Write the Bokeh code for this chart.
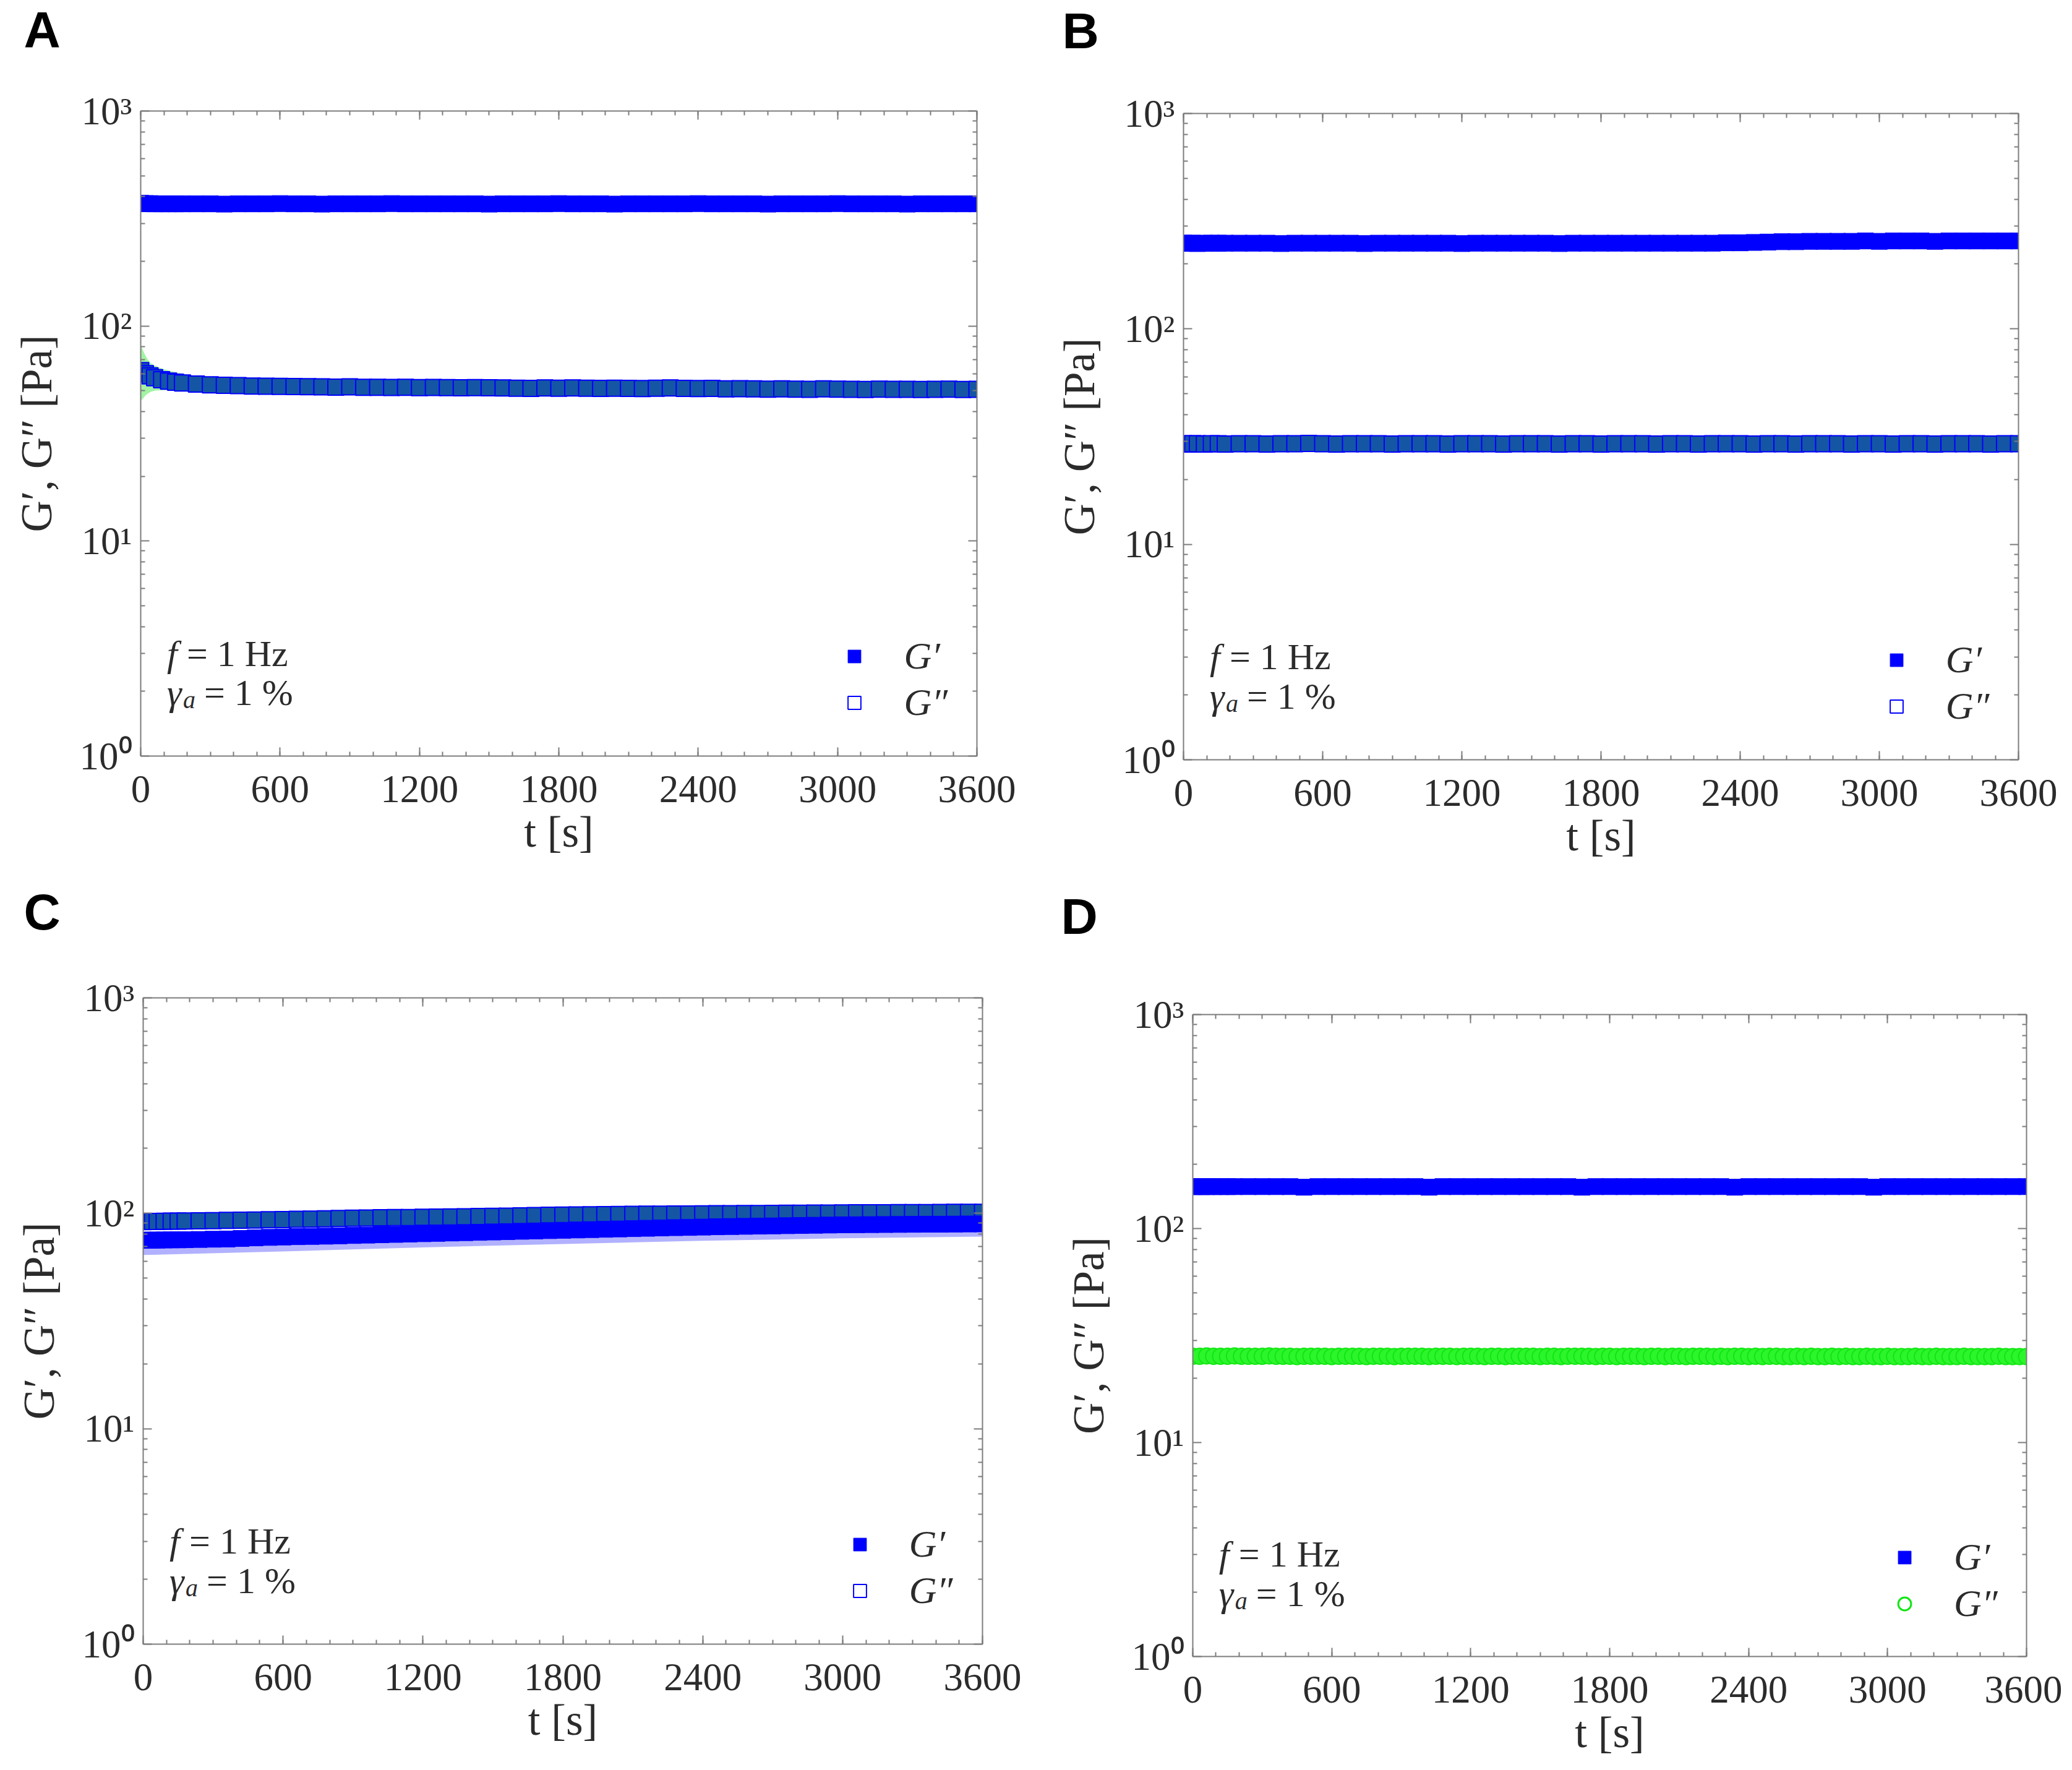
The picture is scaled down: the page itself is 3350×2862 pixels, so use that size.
import numpy as np
from bokeh.plotting import figure
from bokeh.layouts import column, row
from bokeh.models import (FixedTicker, LinearAxis, LogAxis, Label, Range1d,
                          Legend, LegendItem, Title)
from bokeh.embed import file_html
from bokeh.resources import INLINE

# sampling times [s]
t_s = [0, 20, 40, 60, 90, 120, 150, 180] + list(range(240, 3601, 60))
t_dense = list(range(0, 3601, 30))

# ---- panel A ----
a_g1 = [372, 371, 371, 370, 370, 370, 370, 370,
        370, 370, 369, 370, 370, 370, 371, 370, 370, 369, 370, 370, 370, 370, 371, 370, 370, 370, 370,
        370, 370, 369, 370, 370, 370, 370, 371, 370, 370, 370, 369, 370, 370, 370, 370, 370, 371, 370,
        370, 370, 370, 369, 370, 370, 370, 370, 371, 370, 370, 370, 370, 369, 370, 370, 370, 370, 370]
a_g2 = [62.0, 60.0, 58.6, 57.5, 56.3, 55.4, 54.8, 54.3,
        53.7, 53.3, 53.0, 52.8, 52.6, 52.5, 52.4, 52.3, 52.2, 52.1, 52.0, 52.1, 51.9, 51.9, 51.8, 51.9, 51.7, 51.8, 51.7,
        51.6, 51.7, 51.6, 51.5, 51.4, 51.3, 51.5, 51.4, 51.5, 51.4, 51.3, 51.4, 51.3, 51.2, 51.4, 51.5, 51.3, 51.2, 51.3,
        51.0, 51.1, 51.0, 50.9, 51.0, 50.9, 50.8, 51.0, 50.9, 50.8, 50.7, 50.9, 50.8, 50.8, 50.7, 50.8, 50.9, 50.7, 50.8]
a_band_t = [0, 10, 20, 30, 45, 60, 90, 120, 180, 240, 300, 420, 600, 900]
a_g2_hi = [82, 77, 73, 70, 67, 65.5, 63.5, 62, 60, 58.5, 57.5, 56.5, 55.5, 54.5]
a_g2_lo = [45, 46, 47.5, 48.5, 49.5, 50, 50.3, 50.3, 50, 49.8, 49.6, 49.3, 49, 48.8]

# ---- panel B ----
b_g1 = [250, 250, 250, 249, 250, 250, 250, 250,
        250, 250, 250, 249, 250, 250, 250, 250, 250, 249, 250, 250, 250, 250, 250, 250, 249, 250, 250,
        250, 250, 250, 250, 249, 250, 250, 250, 250, 250, 250, 250, 250, 250, 250, 250, 251, 251, 252,
        253, 254, 254, 255, 255, 255, 255, 256, 255, 256, 256, 256, 255, 256, 256, 256, 256, 256, 256]
b_g2 = [29.3, 29.2, 29.3, 29.3, 29.2, 29.3, 29.3, 29.2,
        29.3, 29.3, 29.2, 29.3, 29.3, 29.4, 29.3, 29.2, 29.3, 29.3, 29.3, 29.2, 29.3, 29.3, 29.3, 29.2, 29.3, 29.3, 29.3,
        29.2, 29.3, 29.3, 29.3, 29.2, 29.3, 29.3, 29.2, 29.3, 29.3, 29.3, 29.2, 29.3, 29.3, 29.2, 29.3, 29.3, 29.3, 29.2,
        29.3, 29.3, 29.2, 29.3, 29.3, 29.3, 29.2, 29.3, 29.3, 29.2, 29.3, 29.3, 29.2, 29.3, 29.3, 29.3, 29.2, 29.3, 29.3]

# ---- panel C ----
c_g1 = [75.0, 75.0, 75.1, 75.1, 75.2, 75.3, 75.3, 75.4,
        75.6, 75.8, 76.0, 76.4, 76.9, 77.3, 77.6, 77.9, 78.1, 78.3, 78.6, 78.9, 79.2, 79.5, 79.8, 80.1, 80.4, 80.7, 81.0,
        81.3, 81.6, 81.9, 82.2, 82.5, 82.8, 83.1, 83.4, 83.7, 84.0, 84.3, 84.6, 84.9, 85.2, 85.5, 85.8, 86.0, 86.3, 86.6,
        86.8, 87.0, 87.2, 87.4, 87.6, 87.8, 88.0, 88.2, 88.4, 88.5, 88.6, 88.7, 88.8, 88.9, 89.0, 89.0, 89.1, 89.2, 89.3]
c_g2 = [91.5, 91.6, 91.6, 91.7, 91.8, 91.9, 92.0, 92.1,
        92.3, 92.5, 92.7, 92.9, 93.1, 93.3, 93.5, 93.8, 94.0, 94.3, 94.6, 94.9, 95.1, 95.3, 95.5, 95.6, 95.8, 96.0, 96.2,
        96.4, 96.6, 96.8, 97.0, 97.3, 97.6, 97.9, 98.1, 98.3, 98.4, 98.6, 98.8, 98.9, 99.0, 99.1, 99.2, 99.3, 99.4, 99.5,
        99.6, 99.7, 99.8, 99.9, 100.0, 100.1, 100.2, 100.3, 100.4, 100.5, 100.6, 100.6, 100.7, 100.8, 100.8, 100.9, 101.0, 101.0, 101.1]
c_band_t = [0, 600, 1200, 1800, 2400, 3000, 3600]
c_g1_lo = [64, 66.5, 69.5, 72, 74.5, 76.5, 78]
c_g1_hi = [76, 79, 82, 85, 87, 89, 90]
c_g2_lo = [90, 92, 94, 96, 97, 99, 100]
c_g2_hi = [99.5, 101.5, 104.5, 106.5, 108.5, 109.5, 110.5]

# ---- panel D ----
d_g1 = [157, 157, 157, 157, 157, 157, 157, 157,
        157, 157, 157, 157, 156, 157, 157, 157, 157, 157, 157, 157, 157, 156, 157, 157, 157, 157, 157,
        157, 157, 157, 157, 157, 156, 157, 157, 157, 157, 157, 157, 157, 157, 157, 157, 156, 157, 157,
        157, 157, 157, 157, 157, 157, 157, 156, 157, 157, 157, 157, 157, 157, 157, 157, 157, 157, 157]
# G'' of panel D is sampled every 30 s (t_dense)
d_g2 = [25.3, 25.3, 25.4, 25.3, 25.3, 25.3, 25.4, 25.3, 25.3, 25.3, 25.3, 25.4, 25.3, 25.3, 25.3,
        25.2, 25.3, 25.3, 25.3, 25.3, 25.2, 25.3, 25.3, 25.3, 25.3, 25.2, 25.3, 25.3, 25.3, 25.2,
        25.3, 25.3, 25.3, 25.3, 25.2, 25.3, 25.3, 25.3, 25.2, 25.3, 25.3, 25.3, 25.2, 25.3, 25.3,
        25.2, 25.3, 25.3, 25.3, 25.3, 25.2, 25.3, 25.3, 25.2, 25.3, 25.3, 25.3, 25.3, 25.2, 25.3,
        25.3, 25.2, 25.3, 25.3, 25.3, 25.2, 25.3, 25.3, 25.2, 25.3, 25.3, 25.2, 25.3, 25.3, 25.3,
        25.2, 25.3, 25.2, 25.3, 25.3, 25.2, 25.3, 25.2, 25.3, 25.3, 25.2, 25.2, 25.3, 25.2, 25.3,
        25.2, 25.2, 25.3, 25.2, 25.3, 25.2, 25.2, 25.3, 25.2, 25.2, 25.3, 25.2, 25.2, 25.2, 25.3,
        25.2, 25.2, 25.3, 25.2, 25.2, 25.2, 25.3, 25.2, 25.2, 25.2, 25.2, 25.3, 25.2, 25.2, 25.2,
        25.2]

x_ticks = [0, 600, 1200, 1800, 2400, 3000, 3600]
y_ticks = [1, 10, 100, 1000]
y_tick_labels = {1: "10⁰", 10: "10¹", 100: "10²", 1000: "10³"}

SERIF = "Liberation Serif"
GREY = "#7d7d7d"
TXT = "#2b2b2b"
BLUE = "#0000ff"
G2_FILL = "#1456a3"
W, H = 1667, 1423
NAN = float("nan")


def style_axis(ax, show_labels):
    ax.axis_line_color = GREY
    ax.axis_line_width = 2
    ax.major_tick_line_color = GREY
    ax.minor_tick_line_color = GREY
    ax.major_tick_line_width = 2
    ax.minor_tick_line_width = 2
    ax.major_tick_in = 14
    ax.major_tick_out = 0
    ax.minor_tick_in = 7
    ax.minor_tick_out = 0
    if show_labels:
        ax.major_label_text_font = SERIF
        ax.major_label_text_font_size = "63px"
        ax.major_label_text_color = TXT
        ax.axis_label_text_font = SERIF
        ax.axis_label_text_font_size = "71px"
        ax.axis_label_text_font_style = "normal"
        ax.axis_label_text_color = TXT
    else:
        ax.major_label_text_font_size = "10px"
        ax.major_label_text_color = None


def panel(letter, borders, letter_pos, g1, g2, g2_t=t_s, g2_marker="square",
          g2_fill=G2_FILL, g2_line=BLUE, bands=()):
    left, right, top, bottom = borders
    fw, fh = W - left - right, H - top - bottom
    p = figure(width=W, height=H, x_range=Range1d(0, 3600), y_range=Range1d(1, 1000),
               y_axis_type="log", output_backend="svg", toolbar_location=None,
               min_border_left=left, min_border_right=right,
               min_border_top=top, min_border_bottom=bottom)
    p.outline_line_color = None
    p.grid.visible = False
    p.background_fill_color = "white"
    p.border_fill_color = "white"

    # panel letter as the plot title; an empty second line lifts it to the top corner
    off, stand, lh = letter_pos
    p.title = Title(text=letter + "\n\u00a0", align="left", offset=off, standoff=stand,
                    text_font="Liberation Sans", text_font_style="bold",
                    text_font_size="82px", text_line_height=lh, text_color="black")

    xt = dict(ticks=x_ticks, minor_ticks=list(range(0, 3601, 100)))
    yt = dict(ticks=y_ticks, minor_ticks=[m * d for d in (1, 10, 100) for m in range(2, 10)])
    p.xaxis.ticker = FixedTicker(**xt)
    p.yaxis.ticker = FixedTicker(**yt)
    p.yaxis.major_label_overrides = y_tick_labels
    p.xaxis.axis_label = "t [s]"
    p.yaxis.axis_label = "G′, G″ [Pa]"
    style_axis(p.xaxis[0], True)
    style_axis(p.yaxis[0], True)
    p.xaxis.major_label_standoff = 32
    p.xaxis.axis_label_standoff = 6
    p.yaxis.major_label_standoff = 14
    p.yaxis.axis_label_standoff = 28
    top_ax = LinearAxis(ticker=FixedTicker(**xt))
    right_ax = LogAxis(ticker=FixedTicker(**yt))
    style_axis(top_ax, False)
    style_axis(right_ax, False)
    p.add_layout(top_ax, "above")
    p.add_layout(right_ax, "right")

    for bt, lo, hi, col in bands:
        p.varea(x=bt, y1=lo, y2=hi, fill_color=col, fill_alpha=0.9)

    p.scatter(g2_t, g2, marker=g2_marker, size=26, fill_color=g2_fill,
              line_color=g2_line, line_width=2)
    p.scatter(t_s, g1, marker="square", size=26, fill_color=BLUE, line_color=BLUE)

    # legend proxies: one point that is never on screen, open marker for G''
    lg1 = p.scatter([NAN], [NAN], marker="square", fill_color=BLUE, line_color=BLUE)
    lg2 = p.scatter([NAN], [NAN], marker=g2_marker, fill_color="white", line_color=g2_line,
                    line_width=3 if g2_marker == "circle" else 2)
    leg = Legend(items=[LegendItem(label="G′", renderers=[lg1]),
                        LegendItem(label="G″", renderers=[lg2])],
                 location=(float(3074 / 3600 * fw - 26), float(np.log10(1.67) / 3 * fh - 28)),
                 glyph_width=52, glyph_height=72, label_height=72, spacing=3,
                 padding=0, margin=0, label_standoff=54,
                 label_text_font=SERIF, label_text_font_style="italic",
                 label_text_font_size="62px", label_text_color=TXT,
                 border_line_color=None, background_fill_alpha=0)
    p.add_layout(leg)

    ann = dict(text_font=SERIF, text_font_size="60px", text_color=TXT,
               text_baseline="middle", text_align="left")
    x0, y_f, y_g = 113, 3.0, 1.97
    y_sub = 10 ** (np.log10(y_g) - 12 / fh * 3)
    p.add_layout(Label(x=x0, y=y_f, text="f", text_font_style="italic", **ann))
    p.add_layout(Label(x=x0, y=y_f, x_offset=32, text="= 1 Hz", **ann))
    p.add_layout(Label(x=x0, y=y_g, text="γ", text_font_style="italic", **ann))
    p.add_layout(Label(x=x0, y=y_sub, x_offset=26, text="a", text_font=SERIF,
                       text_font_style="italic", text_font_size="40px", text_color=TXT,
                       text_baseline="middle", text_align="left"))
    p.add_layout(Label(x=x0, y=y_g, x_offset=60, text="= 1 %", **ann))
    return p


pa = panel("A", (227, 88, 168, 201), (-189, 0, 0.95), a_g1, a_g2,
           bands=[(a_band_t, a_g2_lo, a_g2_hi, "#98f298")])
pb = panel("B", (246, 71, 174, 195), (-196, 4, 0.95), b_g1, b_g2)
pc = panel("C", (231, 79, 182, 188), (-193, 6, 1.0), c_g1, c_g2,
           bands=[(c_band_t, c_g1_lo, c_g1_hi, "#a9a9ff"),
                  (c_band_t, c_g2_lo, c_g2_hi, "#98f298")])
pd = panel("D", (261, 58, 217, 168), (-213, 0, 1.25), d_g1, d_g2, g2_t=t_dense,
           g2_marker="circle", g2_fill="#2cf52c", g2_line="#12e612")

# each figure wrapped on its own so the rows do not share border sizes
layout = column(row(column(pa), column(pb)), row(column(pc), column(pd)))
open("out.html", "w").write(file_html(layout, INLINE))
